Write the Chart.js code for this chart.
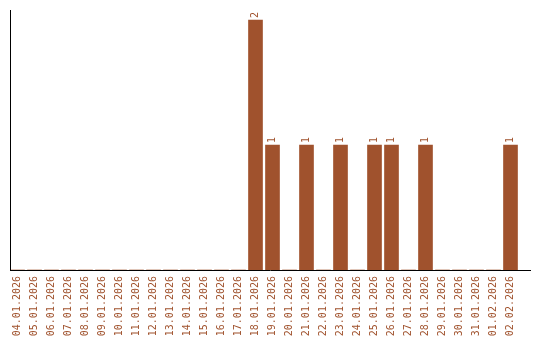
<!DOCTYPE html>
<html>
<head>
<meta charset="utf-8">
<script src="https://cdn.jsdelivr.net/npm/chart.js@4/dist/chart.umd.min.js"></script>
<style>
html,body{margin:0;padding:0;background:#fff;}
#wrap{width:540px;height:340px;position:relative;}
</style>
</head>
<body>
<div id="wrap"><canvas id="c" width="540" height="340"></canvas></div>
<script>
const categories = ["04.01.2026","05.01.2026","06.01.2026","07.01.2026","08.01.2026","09.01.2026","10.01.2026","11.01.2026","12.01.2026","13.01.2026","14.01.2026","15.01.2026","16.01.2026","17.01.2026","18.01.2026","19.01.2026","20.01.2026","21.01.2026","22.01.2026","23.01.2026","24.01.2026","25.01.2026","26.01.2026","27.01.2026","28.01.2026","29.01.2026","30.01.2026","31.01.2026","01.02.2026","02.02.2026"];
const counts = [0,0,0,0,0,0,0,0,0,0,0,0,0,0,2,1,0,1,0,1,0,1,1,0,1,0,0,0,0,1];
const barColor = "#A0522D";
const FONT = "'DejaVu Sans Mono', monospace";

const axisLines = {
  id: 'axisLines',
  afterDraw(chart) {
    const ctx = chart.ctx, a = chart.chartArea;
    const y0 = chart.scales.y.getPixelForValue(0);
    ctx.save();
    ctx.strokeStyle = '#000';
    ctx.lineWidth = 1;
    ctx.beginPath();
    ctx.moveTo(a.left + 1.5, a.top);
    ctx.lineTo(a.left + 1.5, y0 + 1);
    ctx.moveTo(a.left + 1, y0 + 0.5);
    ctx.lineTo(a.right + 12, y0 + 0.5);
    ctx.stroke();
    ctx.restore();
  }
};

const valueLabels = {
  id: 'valueLabels',
  afterDatasetsDraw(chart) {
    const ctx = chart.ctx;
    const meta = chart.getDatasetMeta(0);
    ctx.save();
    ctx.fillStyle = barColor;
    ctx.font = "10px " + FONT;
    ctx.textAlign = 'left';
    ctx.textBaseline = 'middle';
    meta.data.forEach((bar, i) => {
      const v = counts[i];
      if (!v) return;
      ctx.save();
      ctx.translate(bar.x, bar.y - 2);
      ctx.rotate(-Math.PI / 2);
      ctx.fillText(String(v), 0, 0);
      ctx.restore();
    });
    ctx.restore();
  }
};

new Chart(document.getElementById('c'), {
  type: 'bar',
  data: {
    labels: categories,
    datasets: [{
      data: counts,
      backgroundColor: barColor,
      borderWidth: 0,
      barThickness: 14
    }]
  },
  options: {
    responsive: false,
    animation: false,
    devicePixelRatio: 1,
    layout: { padding: { left: 9, right: 21, top: 10, bottom: 0 } },
    plugins: { legend: { display: false }, tooltip: { enabled: false } },
    scales: {
      x: {
        offset: true,
        border: { display: false },
        grid: { display: false, drawTicks: false },
        ticks: {
          autoSkip: false,
          minRotation: 90,
          maxRotation: 90,
          padding: 6,
          color: barColor,
          font: { family: FONT, size: 10 }
        },
        afterFit(scale) { scale.height = 70; }
      },
      y: {
        display: false,
        min: 0,
        max: 2.08
      }
    }
  },
  plugins: [axisLines, valueLabels]
});
</script>
</body>
</html>
